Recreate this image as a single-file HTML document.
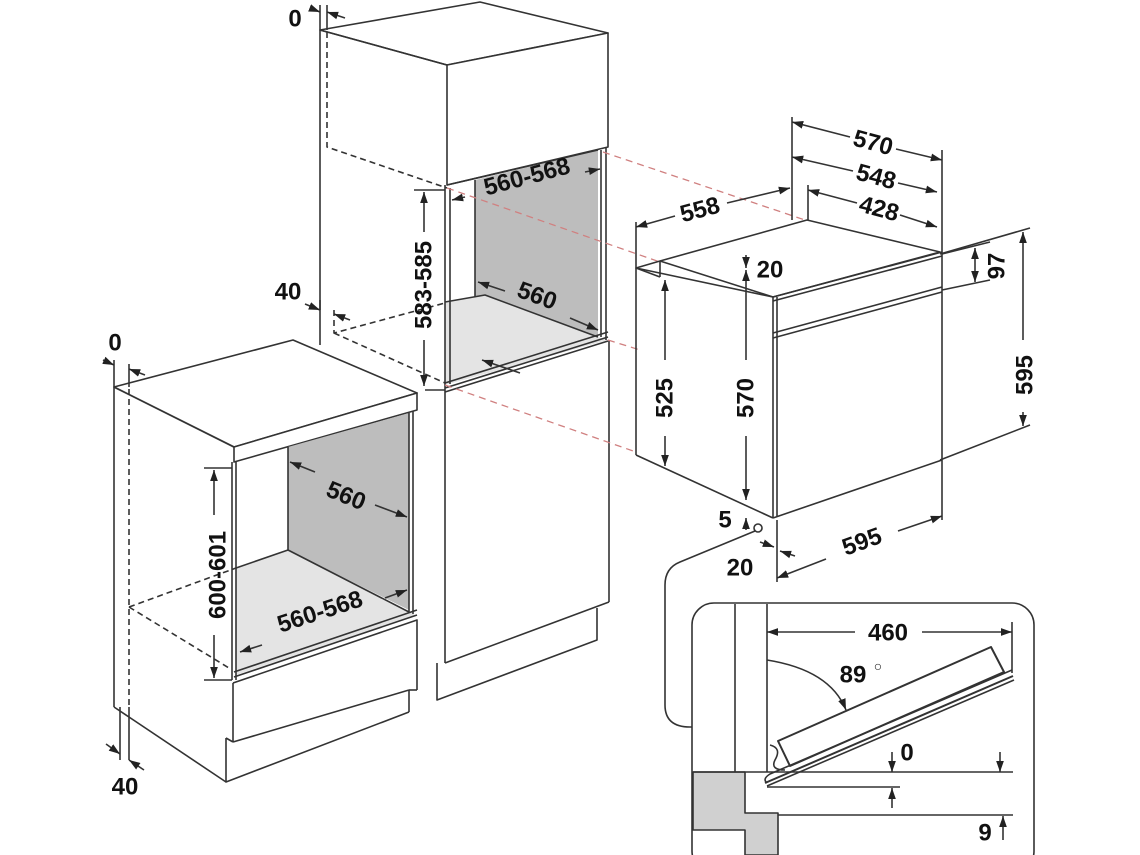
<!DOCTYPE html>
<html><head><meta charset="utf-8"><style>
html,body{margin:0;padding:0;background:#fff;}
svg{display:block;}
text{font-family:"Liberation Sans",sans-serif;font-weight:bold;font-size:24px;fill:#111;text-anchor:middle;dominant-baseline:central;}
</style></head><body>
<svg width="1140" height="855" viewBox="0 0 1140 855" xmlns="http://www.w3.org/2000/svg">
<defs>
<marker id="a" viewBox="0 0 10 10" refX="10" refY="5" markerWidth="7" markerHeight="7" orient="auto-start-reverse"><path d="M0,1.5 L10,5 L0,8.5 z" fill="#222"/></marker>
</defs>
<g fill="none" stroke="#333" stroke-width="1.6" stroke-linejoin="round">

<!-- ===== Tall cabinet ===== -->
<polygon points="320,30 480,2 608,33 447,65" fill="#fff"/>
<polygon points="447,65 608,33 608,147 447,185" fill="#fff"/>
<line x1="320" y1="30" x2="320" y2="345"/>
<line x1="320" y1="30" x2="447" y2="65"/>
<polygon points="475,180 598,150 598,337 485,295 475,298" fill="#bdbdbd" stroke="none"/>
<line x1="475" y1="180" x2="475" y2="298"/>
<polygon points="445,302 485,295 598,337 608,340 445,385" fill="#e4e4e4" stroke="none"/>
<polyline points="445,302 485,295 598,337"/>
<line x1="447" y1="185" x2="598" y2="150"/>
<line x1="445" y1="185" x2="445" y2="390"/>
<line x1="450" y1="188" x2="450" y2="384"/>
<line x1="601" y1="150" x2="601" y2="337"/>
<line x1="606" y1="147" x2="606" y2="340"/>
<line x1="445" y1="383" x2="608" y2="332"/>
<line x1="445" y1="388" x2="608" y2="337"/>
<line x1="445" y1="392" x2="608" y2="341"/>
<line x1="445" y1="390" x2="445" y2="663"/>
<line x1="609" y1="340" x2="609" y2="602"/>
<line x1="445" y1="663" x2="609" y2="602"/>
<polyline points="437,663 437,700 597,640 597,608"/>
<line x1="425" y1="390" x2="445" y2="390"/>
<g stroke-dasharray="6,4">
<polyline points="327,32 327,147 447,188"/>
<polyline points="334,310 334,333 445,303"/>
<line x1="334" y1="333" x2="445" y2="383"/>
</g>

<!-- ===== Left cabinet ===== -->
<polygon points="114,387 293,340 417,393 234,447" fill="#fff"/>
<polygon points="234,447 417,393 417,410 234,462" fill="#fff"/>
<line x1="114" y1="387" x2="234" y2="447"/>
<line x1="114" y1="387" x2="114" y2="707"/>
<polygon points="288,447 409,413 409,610 288,550" fill="#bdbdbd" stroke="none"/>
<line x1="288" y1="447" x2="288" y2="550"/>
<polygon points="236,568 288,550 409,612 415,615 236,675" fill="#e4e4e4" stroke="none"/>
<polyline points="236,568 288,550 409,612"/>
<line x1="236" y1="462" x2="236" y2="680"/>
<line x1="232" y1="462" x2="232" y2="680"/>
<line x1="409" y1="413" x2="409" y2="612"/>
<line x1="413" y1="411" x2="413" y2="614"/>
<line x1="234" y1="672" x2="417" y2="610"/>
<line x1="234" y1="677" x2="417" y2="615"/>
<polyline points="233,683 417,620 417,690"/>
<line x1="233" y1="683" x2="233" y2="742"/>
<line x1="233" y1="742" x2="409" y2="690"/>
<line x1="409" y1="690" x2="409" y2="712"/>
<line x1="409" y1="690" x2="417" y2="690"/>
<polyline points="226,738 226,782 409,712"/>
<line x1="226" y1="738" x2="233" y2="742"/>
<line x1="114" y1="707" x2="226" y2="782"/>
<g stroke-dasharray="6,4">
<line x1="129" y1="389" x2="129" y2="707"/>
<line x1="129" y1="607" x2="236" y2="568"/>
<line x1="129" y1="607" x2="229" y2="668"/>
</g>

<!-- ===== red projection lines ===== -->
<g stroke="#d08080" stroke-dasharray="7,5" stroke-width="1.3">
<line x1="603" y1="152" x2="805" y2="220"/>
<line x1="447" y1="188" x2="660" y2="262"/>
<line x1="608" y1="340" x2="640" y2="350"/>
<line x1="445" y1="385" x2="636" y2="452"/>
</g>

<!-- ===== Oven ===== -->
<polygon points="636,268 660,261 807,220 940,252 773,297" fill="#fff"/>
<line x1="660" y1="261" x2="660" y2="277"/>
<line x1="636" y1="268" x2="660" y2="277"/>
<line x1="660" y1="261" x2="773" y2="297"/>
<line x1="636" y1="268" x2="636" y2="455"/>
<line x1="636" y1="455" x2="773" y2="518"/>
<line x1="773" y1="297" x2="773" y2="518"/>
<line x1="777" y1="297" x2="777" y2="516"/>
<line x1="773" y1="297" x2="942" y2="252"/>
<line x1="773" y1="301" x2="942" y2="256"/>
<line x1="942" y1="252" x2="942" y2="460"/>
<line x1="773" y1="518" x2="942" y2="460"/>
<line x1="773" y1="333" x2="942" y2="287"/>
<line x1="773" y1="338" x2="942" y2="292"/>
<line x1="792" y1="117" x2="792" y2="220"/>
<line x1="942" y1="150" x2="942" y2="252"/>
<line x1="808" y1="185" x2="808" y2="220"/>
<line x1="636" y1="222" x2="636" y2="268"/>
<line x1="792" y1="122" x2="850" y2="137" marker-start="url(#a)"/><line x1="896" y1="149" x2="942" y2="160" marker-end="url(#a)"/>
<line x1="792" y1="157" x2="853" y2="171" marker-start="url(#a)"/><line x1="898" y1="183" x2="937" y2="192" marker-end="url(#a)"/>
<line x1="808" y1="190" x2="857" y2="203" marker-start="url(#a)"/><line x1="900" y1="215" x2="937" y2="227" marker-end="url(#a)"/>
<line x1="636" y1="227" x2="675" y2="216" marker-start="url(#a)"/><line x1="727" y1="203" x2="790" y2="188" marker-end="url(#a)"/>
<line x1="940" y1="254" x2="1030" y2="228"/>
<line x1="940" y1="460" x2="1030" y2="425"/>
<line x1="942" y1="290" x2="990" y2="280"/>
<line x1="942" y1="254" x2="990" y2="242"/>
<line x1="975" y1="248" x2="975" y2="282" marker-start="url(#a)" marker-end="url(#a)"/>
<line x1="1023" y1="232" x2="1023" y2="340" marker-start="url(#a)"/><line x1="1023" y1="412" x2="1023" y2="426" marker-end="url(#a)"/>
<line x1="665" y1="280" x2="665" y2="360" marker-start="url(#a)"/><line x1="665" y1="436" x2="665" y2="466" marker-end="url(#a)"/>
<line x1="746" y1="270" x2="746" y2="360" marker-start="url(#a)"/><line x1="746" y1="436" x2="746" y2="500" marker-end="url(#a)"/>
<line x1="746" y1="255" x2="746" y2="268" marker-end="url(#a)"/>
<line x1="746" y1="530" x2="746" y2="518" marker-end="url(#a)"/>
<line x1="777" y1="520" x2="777" y2="582"/>
<line x1="942" y1="460" x2="942" y2="520"/>
<line x1="777" y1="578" x2="826" y2="559" marker-start="url(#a)"/><line x1="898" y1="531" x2="942" y2="516" marker-end="url(#a)"/>
<line x1="760" y1="542" x2="774" y2="547" marker-end="url(#a)"/>
<line x1="795" y1="556" x2="780" y2="551" marker-end="url(#a)"/>
<circle cx="758" cy="528" r="4" fill="#fff"/>
<path d="M755,531 L680,562 Q665,568 665,585 L665,705 Q665,727 690,727 L695,727"/>

<!-- tall/left dims -->
<line x1="424" y1="192" x2="424" y2="232" marker-start="url(#a)"/><line x1="424" y1="340" x2="424" y2="386" marker-end="url(#a)"/>
<line x1="414" y1="190" x2="445" y2="190"/>
<line x1="214" y1="470" x2="214" y2="515" marker-start="url(#a)"/><line x1="214" y1="635" x2="214" y2="678" marker-end="url(#a)"/>
<line x1="204" y1="468" x2="232" y2="468"/>
<line x1="204" y1="680" x2="232" y2="680"/>
<line x1="482" y1="360" x2="520" y2="373" marker-start="url(#a)"/>
<line x1="478" y1="282" x2="505" y2="291" marker-start="url(#a)"/>
<line x1="570" y1="318" x2="598" y2="330" marker-end="url(#a)"/>
<line x1="465" y1="197" x2="452" y2="200" marker-end="url(#a)"/>
<line x1="585" y1="172" x2="600" y2="169" marker-end="url(#a)"/>
<line x1="290" y1="462" x2="315" y2="472" marker-start="url(#a)"/><line x1="375" y1="505" x2="407" y2="517" marker-end="url(#a)"/>
<line x1="262" y1="645" x2="240" y2="652" marker-end="url(#a)"/>
<line x1="385" y1="598" x2="407" y2="590" marker-end="url(#a)"/>
<line x1="320" y1="5" x2="320" y2="30"/><line x1="327" y1="5" x2="327" y2="30"/>
<line x1="310" y1="8" x2="320" y2="12" marker-end="url(#a)"/><line x1="345" y1="18" x2="327" y2="12" marker-end="url(#a)"/>
<line x1="320" y1="300" x2="320" y2="310"/>
<line x1="305" y1="304" x2="320" y2="310" marker-end="url(#a)"/><line x1="350" y1="320" x2="334" y2="314" marker-end="url(#a)"/>
<line x1="114" y1="360" x2="114" y2="387"/><line x1="129" y1="364" x2="129" y2="387"/>
<line x1="103" y1="360" x2="114" y2="365" marker-end="url(#a)"/><line x1="145" y1="375" x2="129" y2="369" marker-end="url(#a)"/>
<line x1="120" y1="707" x2="120" y2="760"/><line x1="129" y1="707" x2="129" y2="760"/>
<line x1="106" y1="744" x2="120" y2="754" marker-end="url(#a)"/><line x1="144" y1="770" x2="129" y2="760" marker-end="url(#a)"/>

<!-- ===== Detail box ===== -->
<rect x="692" y="603" width="342" height="270" rx="22" fill="#fff"/>
<polygon points="693,772 745,772 745,813 778,813 778,855 745,855 745,830 693,830" fill="#d0d0d0" stroke="#333"/>
<line x1="735" y1="604" x2="735" y2="772"/>
<line x1="767" y1="604" x2="767" y2="772"/>
<line x1="693" y1="772" x2="1013" y2="772"/>
<line x1="767" y1="787" x2="900" y2="787"/>
<line x1="778" y1="815" x2="1013" y2="815"/>
<line x1="1012" y1="622" x2="1012" y2="673"/>
<line x1="767" y1="632" x2="855" y2="632" marker-start="url(#a)"/><line x1="922" y1="632" x2="1012" y2="632" marker-end="url(#a)"/>
<polygon points="778,741 991,647 1004,672 790,766" fill="#fff" stroke-width="2"/>
<line x1="765" y1="783" x2="1013" y2="676" stroke-width="2"/>
<line x1="767" y1="786" x2="1014" y2="680"/>
<path d="M767,783 Q762,779 770,774 L1012,670"/>
<path d="M770,745 Q782,748 775,760 Q770,770 785,770"/>
<path d="M767,660 Q830,670 846,710" marker-end="url(#a)"/>
<line x1="892" y1="752" x2="892" y2="772" marker-end="url(#a)"/>
<line x1="892" y1="808" x2="892" y2="788" marker-end="url(#a)"/>
<line x1="1000" y1="752" x2="1000" y2="772" marker-end="url(#a)"/>
<line x1="1003" y1="840" x2="1003" y2="816" marker-end="url(#a)"/>
</g>

<!-- ===== Labels ===== -->
<text x="295" y="19">0</text>
<text x="288" y="292">40</text>
<text x="115" y="343">0</text>
<text x="125" y="787">40</text>
<text transform="translate(424,285) rotate(-90)">583-585</text>
<text transform="translate(527,177) rotate(-15)">560-568</text>
<text transform="translate(537,296) rotate(20)">560</text>
<text transform="translate(346,496) rotate(22)">560</text>
<text transform="translate(320,612) rotate(-18)">560-568</text>
<text transform="translate(218,575) rotate(-90)">600-601</text>
<text transform="translate(873,143) rotate(15)">570</text>
<text transform="translate(876,177) rotate(15)">548</text>
<text transform="translate(879,209) rotate(15)">428</text>
<text transform="translate(700,210) rotate(-15)">558</text>
<text x="770" y="270">20</text>
<text transform="translate(997,266) rotate(-90)">97</text>
<text transform="translate(1025,375) rotate(-90)">595</text>
<text transform="translate(665,398) rotate(-90)">525</text>
<text transform="translate(746,398) rotate(-90)">570</text>
<text x="725" y="520">5</text>
<text x="740" y="568">20</text>
<text transform="translate(862,542) rotate(-20)">595</text>
<text x="888" y="633">460</text>
<text x="853" y="675">89</text>
<text x="878" y="666" style="font-size:14px;font-weight:normal">○</text>
<text x="907" y="753">0</text>
<text x="985" y="833">9</text>
</svg>
</body></html>
